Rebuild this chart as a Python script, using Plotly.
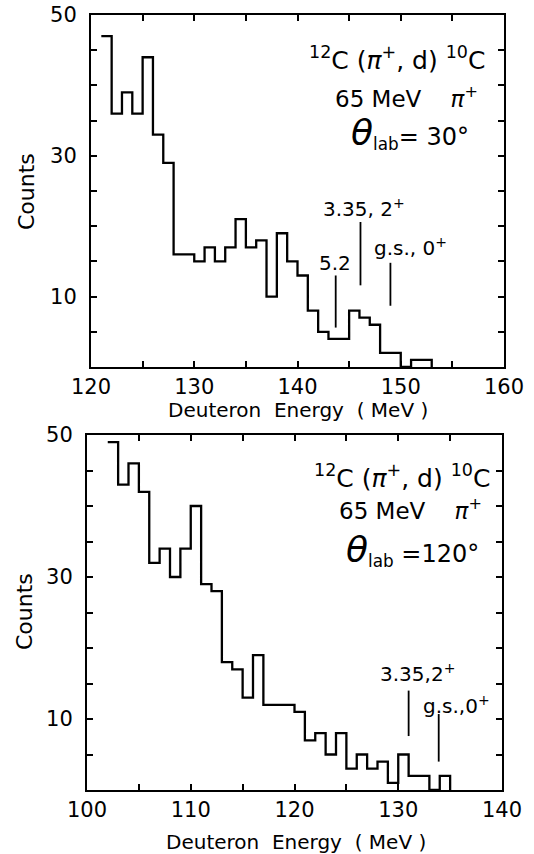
import plotly.graph_objects as go

# ---- 12C(pi+,d)10C, 65 MeV pi+, theta_lab = 30 deg : 1-MeV bins ----
e30_left = list(range(121, 153))          # left bin edges (MeV)
e30_counts = [47, 36, 39, 36, 44, 33, 29, 16, 16, 15, 17, 15, 17, 21, 17, 18,
              10, 19, 15, 13, 8, 5, 4, 4, 8, 7, 6, 2, 2, 0, 1, 1]
e30_states = [143.7, 146.1, 149.0]         # marked 10C states (MeV)
e30_state_text = ["5.2", "3.35, 2<sup>+</sup>", "g.s., 0<sup>+</sup>"]

# ---- theta_lab = 120 deg ----
e120_left = list(range(102, 135))
e120_counts = [49, 43, 46, 42, 32, 34, 30, 34, 40, 29, 28, 18, 17, 13, 19, 12,
               12, 12, 11, 7, 8, 5, 8, 3, 5, 3, 4, 1, 5, 2, 2, 0, 2]
e120_states = [131.0, 133.9]
e120_state_text = ["3.35,2<sup>+</sup>", "g.s.,0<sup>+</sup>"]

x_ticks_top = [120, 130, 140, 150, 160]
x_ticks_bot = [100, 110, 120, 130, 140]
y_ticks = [10, 30, 50]

W, H = 534, 854
FONT = "DejaVu Sans"


def fx(p):
    return p / W


def fy(p):
    return 1 - p / H


def step_xy(left, counts):
    xs = left + [left[-1] + 1]
    ys = counts + [0]
    return xs, ys


fig = go.Figure()

x30, y30 = step_xy(e30_left, e30_counts)
fig.add_trace(go.Scatter(x=x30, y=y30, mode="lines", line_shape="hv",
                         line=dict(color="black", width=2.3),
                         xaxis="x", yaxis="y", showlegend=False))
x120, y120 = step_xy(e120_left, e120_counts)
fig.add_trace(go.Scatter(x=x120, y=y120, mode="lines", line_shape="hv",
                         line=dict(color="black", width=2.3),
                         xaxis="x2", yaxis="y2", showlegend=False))

tickfont = dict(family=FONT, size=21, color="black")


def xaxis(domain, rng, ticks, anchor):
    return dict(domain=domain, range=rng, anchor=anchor, automargin=False,
                tickmode="array", tickvals=ticks, ticktext=[str(t) for t in ticks],
                ticks="inside", ticklen=6, tickwidth=2, tickcolor="black",
                minor=dict(dtick=5, tick0=0, ticks="inside", ticklen=6,
                           tickwidth=2, tickcolor="black"),
                showline=True, linewidth=2, linecolor="black", mirror="allticks",
                showgrid=False, zeroline=False, tickfont=tickfont,
                ticklabelstandoff=0, fixedrange=True)


def yaxis(domain, anchor):
    return dict(domain=domain, range=[0, 50], anchor=anchor, automargin=False,
                tickmode="array", tickvals=y_ticks, ticktext=[str(t) for t in y_ticks],
                ticks="inside", ticklen=6, tickwidth=2, tickcolor="black",
                minor=dict(dtick=5, tick0=0, ticks="inside", ticklen=6,
                           tickwidth=2, tickcolor="black"),
                showline=True, linewidth=2, linecolor="black", mirror="allticks",
                showgrid=False, zeroline=False, tickfont=tickfont,
                ticklabelstandoff=8, fixedrange=True)


fig.update_layout(
    template="none",
    width=W, height=H,
    margin=dict(l=0, r=0, t=0, b=0, autoexpand=False),
    paper_bgcolor="white", plot_bgcolor="white",
    font=dict(family=FONT, color="black"),
    xaxis=xaxis([fx(91), fx(504)], [120, 160], x_ticks_top, "y"),
    yaxis=yaxis([fy(367), fy(15)], "x"),
    xaxis2=xaxis([fx(87), fx(502)], [100, 140], x_ticks_bot, "y2"),
    yaxis2=yaxis([fy(790), fy(435)], "x2"),
)

ann = []
shapes = []


def text_at(t, px, py, size, **kw):
    d = dict(text=t, x=fx(px), y=fy(py), xref="paper", yref="paper",
             xanchor="center", yanchor="middle", showarrow=False,
             font=dict(size=size))
    d.update(kw)
    ann.append(d)


# axis titles
text_at("Counts", 26, 192, 22, textangle=-90)
text_at("Counts", 24, 612, 22, textangle=-90)
text_at("Deuteron  Energy  ( MeV )", 298, 410, 20)
text_at("Deuteron  Energy  ( MeV )", 296, 842, 20)

# reaction / kinematics text blocks
theta = "<span style='font-size:36px'><i>θ</i></span>"
blocks = [
    ((397, 59), (406, 97), (410, 133), "= 30°"),
    ((402, 477), (410, 509), (412, 550), " =120°"),
]
for l1, l2, l3, ang in blocks:
    text_at("<sup>12</sup>C (<i>π</i><sup>+</sup>, d) <sup>10</sup>C", l1[0], l1[1], 25)
    text_at("65 MeV    <i>π</i><sup>+</sup>", l2[0], l2[1], 23)
    text_at(theta + "<sub>lab</sub>" + ang, l3[0], l3[1], 24)

# state markers, 30 deg
seg30 = [(5.6, 13.0), (11.6, 20.6), (8.7, 14.8)]
lab30 = [(143.6, 14.8), (146.4, 22.6), (150.9, 17.0)]
for e, (y0, y1), (lx, ly), t in zip(e30_states, seg30, lab30, e30_state_text):
    shapes.append(dict(type="line", xref="x", yref="y", x0=e, x1=e, y0=y0, y1=y1,
                       line=dict(color="black", width=1.8)))
    ann.append(dict(text=t, x=lx, y=ly, xref="x", yref="y", showarrow=False,
                    xanchor="center", yanchor="middle", font=dict(size=20)))

# state markers, 120 deg
seg120 = [(7.6, 14.0), (4.0, 10.7)]
lab120 = [(131.9, 16.5), (135.6, 12.0)]
for e, (y0, y1), (lx, ly), t in zip(e120_states, seg120, lab120, e120_state_text):
    shapes.append(dict(type="line", xref="x2", yref="y2", x0=e, x1=e, y0=y0, y1=y1,
                       line=dict(color="black", width=1.8)))
    ann.append(dict(text=t, x=lx, y=ly, xref="x2", yref="y2", showarrow=False,
                    xanchor="center", yanchor="middle", font=dict(size=20)))

fig.update_layout(annotations=ann, shapes=shapes)
fig.write_html("out.html")
